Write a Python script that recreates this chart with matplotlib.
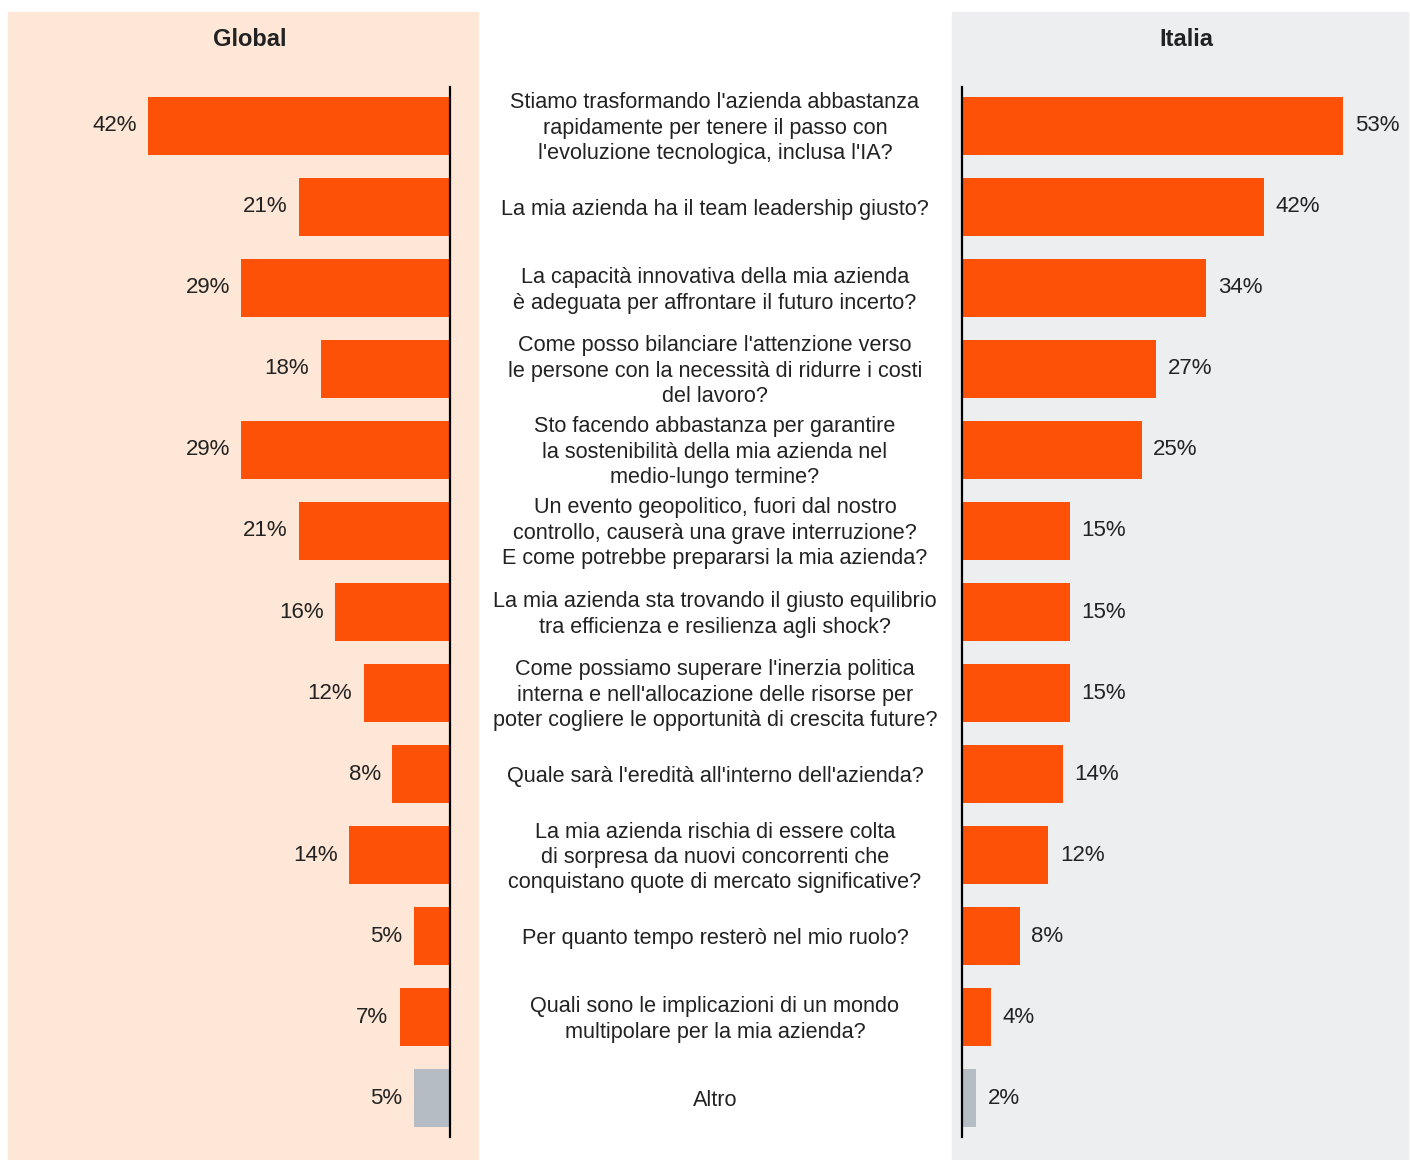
import matplotlib
matplotlib.use("Agg")
import matplotlib.pyplot as plt
from matplotlib.patches import Rectangle

plt.rcParams["font.family"] = ["Liberation Sans", "DejaVu Sans"]

questions = [
    "Stiamo trasformando l'azienda abbastanza\nrapidamente per tenere il passo con\nl'evoluzione tecnologica, inclusa l'IA?",
    "La mia azienda ha il team leadership giusto?",
    "La capacità innovativa della mia azienda\nè adeguata per affrontare il futuro incerto?",
    "Come posso bilanciare l'attenzione verso\nle persone con la necessità di ridurre i costi\ndel lavoro?",
    "Sto facendo abbastanza per garantire\nla sostenibilità della mia azienda nel\nmedio-lungo termine?",
    "Un evento geopolitico, fuori dal nostro\ncontrollo, causerà una grave interruzione?\nE come potrebbe prepararsi la mia azienda?",
    "La mia azienda sta trovando il giusto equilibrio\ntra efficienza e resilienza agli shock?",
    "Come possiamo superare l'inerzia politica\ninterna e nell'allocazione delle risorse per\npoter cogliere le opportunità di crescita future?",
    "Quale sarà l'eredità all'interno dell'azienda?",
    "La mia azienda rischia di essere colta\ndi sorpresa da nuovi concorrenti che\nconquistano quote di mercato significative?",
    "Per quanto tempo resterò nel mio ruolo?",
    "Quali sono le implicazioni di un mondo\nmultipolare per la mia azienda?",
    "Altro",
]
global_vals = [42, 21, 29, 18, 29, 21, 16, 12, 8, 14, 5, 7, 5]
italia_vals = [53, 42, 34, 27, 25, 15, 15, 15, 14, 12, 8, 4, 2]
panel_titles = ["Global", "Italia"]

ORANGE = "#FD5108"
GREY_BAR = "#B6BCC3"
PEACH = "#FEE7D6"
GREY_BG = "#EDEEF0"
TXT = "#222222"

W, H = 1410, 1160
fig = plt.figure(figsize=(W / 100, H / 100), dpi=100)


def px(x0, y0, x1, y1):
    # pixel box (top-left origin) -> figure fraction rect
    return [x0 / W, 1 - y1 / H, (x1 - x0) / W, (y1 - y0) / H]


# panel backgrounds
fig.patches.append(Rectangle((8 / W, 0), 470 / W, 1 - 12 / H,
                             transform=fig.transFigure, color=PEACH, zorder=-5))
fig.patches.append(Rectangle((952 / W, 0), 456 / W, 1 - 12 / H,
                             transform=fig.transFigure, color=GREY_BG, zorder=-5))

fig.text(250 / W, 1 - 40 / H, panel_titles[0], ha="center", va="center",
         fontsize=17, fontweight="bold", color=TXT)
fig.text(1186 / W, 1 - 40 / H, panel_titles[1], ha="center", va="center",
         fontsize=17, fontweight="bold", color=TXT)

scale = 7.19  # px per percentage point
n = len(questions)
ylim = (n - 1 + 0.48, -0.48)
colors = [ORANGE] * (n - 1) + [GREY_BAR]
ypos = list(range(n))

ax_l = fig.add_axes(px(450 - scale * 50, 87, 450, 1137))
ax_r = fig.add_axes(px(962, 87, 962 + scale * 60, 1137))
ax_m = fig.add_axes(px(480, 87, 950, 1137))

for ax in (ax_l, ax_r, ax_m):
    ax.set_facecolor("none")
    ax.set_ylim(*ylim)
    ax.set_xticks([])
    ax.set_yticks([])
    for s in ax.spines.values():
        s.set_visible(False)

ax_l.set_xlim(50, 0)
ax_l.barh(ypos, global_vals, height=0.72, color=colors)
ax_l.spines["right"].set_visible(True)
ax_l.spines["right"].set_linewidth(1.6)
for y, v in zip(ypos, global_vals):
    ax_l.text(v + 1.6, y, f"{v}%", ha="right", va="center", fontsize=16, color=TXT)

ax_r.set_xlim(0, 60)
ax_r.barh(ypos, italia_vals, height=0.72, color=colors)
ax_r.spines["left"].set_visible(True)
ax_r.spines["left"].set_linewidth(1.6)
for y, v in zip(ypos, italia_vals):
    ax_r.text(v + 1.6, y, f"{v}%", ha="left", va="center", fontsize=16, color=TXT)

ax_m.set_xlim(0, 1)
for y, q in zip(ypos, questions):
    ax_m.text(0.5, y + 0.03, q, ha="center", va="center", fontsize=15.6,
              color=TXT, linespacing=1.28)

fig.savefig("out.png", dpi=100)
